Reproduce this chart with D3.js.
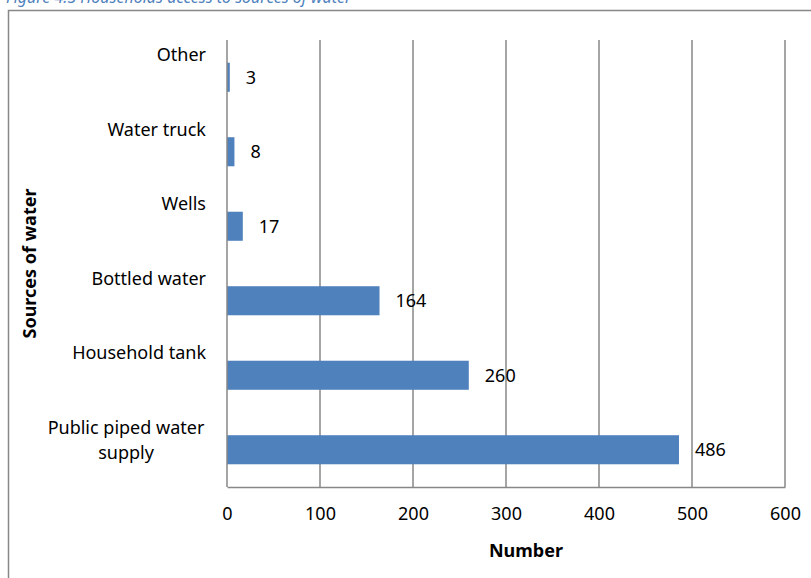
<!DOCTYPE html>
<html>
<head>
<meta charset="utf-8">
<script src="https://cdn.jsdelivr.net/npm/d3@7"></script>
<style>
  body { margin: 0; background: #fff; }
  svg text { font-family: "Noto Sans", "Open Sans", sans-serif; }
</style>
</head>
<body>
<div id="wrapper"></div>
<script>
const categories = ["Other", "Water truck", "Wells", "Bottled water", "Household tank", "Public piped water supply"];
const labelLines = [["Other"], ["Water truck"], ["Wells"], ["Bottled water"], ["Household tank"], ["Public piped water", "supply"]];
const values = [3, 8, 17, 164, 260, 486];
const xTicks = [0, 100, 200, 300, 400, 500, 600];

function drawChart() {
  const W = 811, H = 578;
  const margin = {top: 40, right: 26, bottom: 91, left: 227};
  const width = W - margin.left - margin.right;
  const height = H - margin.top - margin.bottom;

  const svg = d3.select("#wrapper").append("svg")
    .attr("width", W)
    .attr("height", H);

  // caption of the figure, cut by the top edge as in the source
  svg.append("text")
    .attr("x", 6)
    .attr("y", 3)
    .attr("fill", "#4f81bd")
    .attr("font-style", "italic")
    .attr("font-size", 16)
    .text("Figure 4.3   Households access to sources of water");

  // chart frame
  svg.append("rect")
    .attr("x", 8.5).attr("y", 10.5)
    .attr("width", 820).attr("height", 600)
    .attr("fill", "#fff")
    .attr("stroke", "#878787")
    .attr("stroke-width", 1.5);

  const g = svg.append("g")
    .attr("transform", `translate(${margin.left},${margin.top})`);

  const xScale = d3.scaleLinear().domain([0, 600]).range([0, width]);
  const yScale = d3.scaleBand().domain(categories).range([0, height]).paddingInner(0.61).paddingOuter(0.305);

  // gridlines
  g.selectAll("line.grid")
    .data(xTicks.slice(1))
    .join("line")
    .attr("class", "grid")
    .attr("x1", d => xScale(d)).attr("x2", d => xScale(d))
    .attr("y1", 0).attr("y2", height)
    .attr("stroke", "#878787")
    .attr("stroke-width", 1.5);

  // bars
  g.selectAll("rect.bar")
    .data(values)
    .join("rect")
    .attr("class", "bar")
    .attr("x", xScale(0))
    .attr("y", (d, i) => yScale(categories[i]))
    .attr("width", d => xScale(d) - xScale(0))
    .attr("height", yScale.bandwidth())
    .attr("fill", "#4f81bd");

  // value labels
  g.selectAll("text.val")
    .data(values)
    .join("text")
    .attr("class", "val")
    .attr("x", d => xScale(d) + 16)
    .attr("y", (d, i) => yScale(categories[i]) + yScale.bandwidth() / 2)
    .attr("dy", "0.35em")
    .attr("font-size", 18)
    .attr("fill", "#000")
    .text(d => d);

  // axes
  const xAxis = d3.axisBottom(xScale).tickValues(xTicks).tickSize(0).tickPadding(20);
  const xg = g.append("g")
    .attr("transform", `translate(0,${height})`)
    .call(xAxis);
  xg.select(".domain").attr("stroke", "#878787").attr("stroke-width", 1.5);
  xg.selectAll("text").attr("font-size", 18).attr("fill", "#000")
    .attr("font-family", "Noto Sans");

  g.append("line")
    .attr("x1", 0).attr("x2", 0)
    .attr("y1", 0).attr("y2", height)
    .attr("stroke", "#878787")
    .attr("stroke-width", 1.5);

  // category labels
  const cat = g.selectAll("text.cat")
    .data(labelLines)
    .join("text")
    .attr("class", "cat")
    .attr("font-size", 18)
    .attr("fill", "#000")
    .attr("text-anchor", d => d.length > 1 ? "middle" : "end")
    .attr("transform", (d, i) => {
      const cy = yScale(categories[i]) + yScale.bandwidth() / 2;
      return `translate(${d.length > 1 ? -101 : -21},${cy - 16})`;
    });
  cat.selectAll("tspan")
    .data(d => d)
    .join("tspan")
    .attr("x", 0)
    .attr("dy", (d, j) => j === 0 ? 0 : 25)
    .text(d => d);

  // axis titles
  svg.append("text")
    .attr("x", 526)
    .attr("y", 557)
    .attr("text-anchor", "middle")
    .attr("font-size", 18)
    .attr("font-weight", "bold")
    .text("Number");

  svg.append("text")
    .attr("transform", `translate(36,${margin.top + height / 2}) rotate(-90)`)
    .attr("text-anchor", "middle")
    .attr("font-size", 18)
    .attr("font-weight", "bold")
    .text("Sources of water");
}
drawChart();
</script>
</body>
</html>
